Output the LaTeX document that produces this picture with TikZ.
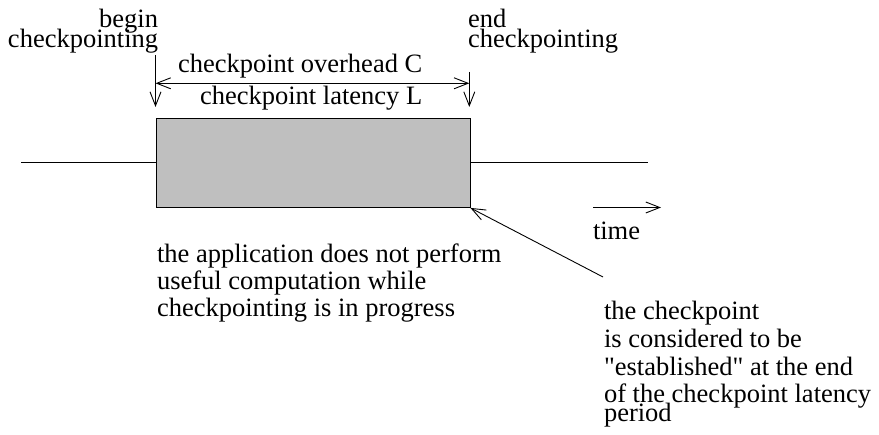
\documentclass[tikz,border=0pt]{standalone}
\usepackage{fontspec}
\setmainfont{Liberation Serif}[Ligatures=TeXOff]
\usetikzlibrary{arrows.meta}
\definecolor{boxgray}{HTML}{BFBFBF}
\tikzset{
  lbl/.style={inner sep=0pt, outer sep=0pt, font=\fontsize{26.5}{28}\selectfont},
  ln/.style={line width=0.9pt, black},
  barb/.style={-{Straight Barb[length=14pt,width=11pt,line width=0.9pt]}},
  dbarb/.style={{Straight Barb[length=14pt,width=11pt,line width=0.9pt]}-{Straight Barb[length=14pt,width=11pt,line width=0.9pt]}}
}
\begin{document}
\begin{tikzpicture}[x=1pt,y=-1pt]
\useasboundingbox (0,0) rectangle (879,435);
% box
\node (box) [draw, ln, fill=boxgray, minimum width=314pt, minimum height=89pt, inner sep=0pt, anchor=north west] at (155.5,118) {};
% time line
\coordinate (l0) at (21,162.5);
\coordinate (r1) at (648,162.5);
\draw[ln] (l0) -- (l0 -| box.west);
\draw[ln] (r1 -| box.east) -- (r1);
% begin/end arrows
\coordinate (b0) at (155.5,55);
\coordinate (b1) at (155.5,107);
\coordinate (e0) at (469.3,72);
\coordinate (e1) at (469.3,107);
\draw[ln,barb] (b0) -- (b1);
\draw[ln,barb] (e0) -- (e1);
\coordinate (c0) at (155.5,83.3);
\coordinate (c1) at (469.3,83.3);
\draw[ln,dbarb] (c0) -- (c1);
% time arrow
\coordinate (t0) at (593,207.5);
\coordinate (t1) at (661,207.5);
\draw[ln,barb] (t0) -- (t1);
% pointer arrow
\coordinate (p0) at (603,277);
\draw[ln,barb] (p0) -- (box.south east);
% texts
\node (tb1) [lbl, anchor=base east] at (158,28) {begin};
\node (tb2) [lbl, anchor=base west] at (8,48) {checkpointing};
\node (te1) [lbl, anchor=base west] at (468,28) {end};
\node (te2) [lbl, anchor=base west] at (468,48) {checkpointing};
\node (tc) [lbl, anchor=base west] at (178,73) {checkpoint overhead C};
\node (tl) [lbl, anchor=base west] at (200,105) {checkpoint latency L};
\node (tt) [lbl, anchor=base west] at (593,240) {time};
\node (a1) [lbl, anchor=base west] at (157,263) {the application does not perform};
\node (a2) [lbl, anchor=base west] at (157,290) {useful computation while};
\node (a3) [lbl, anchor=base west] at (157,317) {checkpointing is in progress};
\node (r1t) [lbl, anchor=base west] at (604,320) {the checkpoint};
\node (r2t) [lbl, anchor=base west] at (604,348) {is considered to be};
\node (r3t) [lbl, anchor=base west] at (604,376) {"established" at the end};
\node (r4t) [lbl, anchor=base west] at (604,403) {of the checkpoint latency};
\node (r5t) [lbl, anchor=base west] at (604,422) {period};
\end{tikzpicture}
\end{document}
